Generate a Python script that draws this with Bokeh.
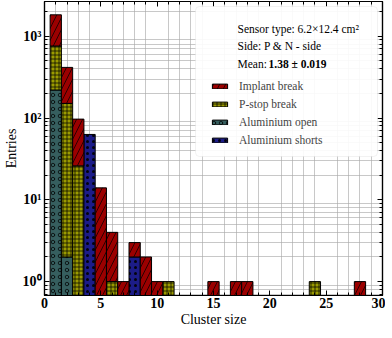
from bokeh.plotting import figure
from bokeh.models import (FixedTicker, LinearAxis, Legend, LegendItem,
                          BoxAnnotation, Label, ColumnDataSource)
from bokeh.embed import file_html
from bokeh.resources import INLINE

# ---- data ----
cluster_size = list(range(1, 29))
al_open   = [220, 2, 0, 0, 0, 0, 0, 0, 0, 0, 0, 0, 0, 0,
             0, 0, 0, 0, 0, 0, 0, 0, 0, 0, 0, 0, 0, 0]
p_stop    = [540, 149, 26, 0, 0, 1, 0, 0, 0, 0, 1, 0, 0, 0,
             0, 0, 0, 0, 0, 0, 0, 0, 0, 1, 0, 0, 0, 0]
al_shorts = [0, 0, 0, 63, 0, 0, 0, 2, 0, 0, 0, 0, 0, 0,
             0, 0, 0, 0, 0, 0, 0, 0, 0, 0, 0, 0, 0, 0]
implant   = [1068, 265, 71, 0, 14, 3, 1, 1, 2, 1, 0, 0, 0, 0,
             1, 0, 1, 1, 0, 0, 0, 0, 0, 0, 0, 0, 0, 1]

series_names = ["Aluminium open", "P-stop break", "Aluminium shorts", "Implant break"]
series_vals = [al_open, p_stop, al_shorts, implant]
series_colors = ["#365f5f", "#9a9a00", "#1c1c88", "#9b0000"]
series_hatch = ["o", "+", ".", "/"]
series_hscale = [7, 4, 6, 12]
legend_order = ["Implant break", "P-stop break", "Aluminium open", "Aluminium shorts"]

x_ticks = [0, 5, 10, 15, 20, 25, 30]
y_ticks = [1, 10, 100, 1000]
y_labels = {1: "10⁰", 10: "10¹", 100: "10²", 1000: "10³"}

info_lines = ["Sensor type: 6.2×12.4 cm²", "Side: P & N - side"]
mean_label = "Mean:"
mean_value = "1.38 ± 0.019"

FW, FH = 338, 294
p = figure(frame_width=FW, frame_height=FH, y_axis_type="log",
           x_range=(0, 30), y_range=(0.676, 2660),
           output_backend="svg", toolbar_location=None,
           min_border_left=0, min_border_right=3, min_border_top=1, min_border_bottom=0,
           background_fill_color="white", border_fill_color="white")

SERIF = "Liberation Serif"

xax = p.below[0]
yax = p.left[0]

# stacked histogram
base = [0.0] * len(cluster_size)
renderers = {}
for name, vals, col, hp, hs in zip(series_names, series_vals, series_colors, series_hatch, series_hscale):
    left, right, bottom, top = [], [], [], []
    for i, (c, v) in enumerate(zip(cluster_size, vals)):
        if v > 0:
            left.append(c - 0.5)
            right.append(c + 0.5)
            bottom.append(base[i] if base[i] > 0 else 1e-3)
            top.append(base[i] + v)
            base[i] = base[i] + v
    src = ColumnDataSource(dict(left=left, right=right, bottom=bottom, top=top))
    r = p.quad(left="left", right="right", bottom="bottom", top="top", source=src,
               fill_color=col, line_color="black", line_width=1,
               hatch_pattern=hp, hatch_color="black", hatch_alpha=0.9,
               hatch_scale=hs, hatch_weight=0.8)
    renderers[name] = r

# axes
minor_y = [m * 10 ** e for e in range(-1, 4) for m in range(2, 10)]
xax.ticker = FixedTicker(ticks=x_ticks, minor_ticks=list(range(0, 31)))
yax.ticker = FixedTicker(ticks=y_ticks, minor_ticks=minor_y)
yax.major_label_overrides = y_labels

top_ax = LinearAxis(ticker=FixedTicker(ticks=x_ticks, minor_ticks=list(range(0, 31))),
                    major_label_overrides={t: "" for t in x_ticks}, major_label_standoff=0)
right_ax = LinearAxis(ticker=FixedTicker(ticks=y_ticks, minor_ticks=minor_y),
                      major_label_overrides={t: "" for t in y_ticks}, major_label_standoff=0)
p.add_layout(top_ax, "above")
p.add_layout(right_ax, "right")

for ax in [xax, yax, top_ax, right_ax]:
    ax.major_tick_in = 5
    ax.major_tick_out = 0
    ax.minor_tick_in = 3
    ax.minor_tick_out = 0
    ax.axis_line_color = "black"
    ax.axis_line_width = 1.2
    ax.major_tick_line_color = "black"
    ax.minor_tick_line_color = "black"
    ax.major_label_text_font = SERIF
    ax.major_label_text_font_style = "bold"
    ax.major_label_text_color = "black"
    ax.major_label_text_font_size = "14px"

xax.major_label_standoff = 2
yax.major_label_standoff = 3
xax.axis_label = "Cluster size"
yax.axis_label = "Entries"
for ax in [xax, yax]:
    ax.axis_label_text_font = SERIF
    ax.axis_label_text_font_size = "14px"
    ax.axis_label_text_font_style = "normal"
    ax.axis_label_text_color = "black"
    ax.axis_label_standoff = 1

p.outline_line_color = "black"
p.outline_line_width = 1.2

p.xgrid.ticker = FixedTicker(ticks=[i for i in range(1, 30) if i % 5])
p.ygrid.ticker = FixedTicker(ticks=minor_y)
for g in [p.xgrid, p.ygrid]:
    g.grid_line_color = "#a8a8a8"
    g.grid_line_width = 0.8
    g.grid_line_alpha = 0.8

# legend frame
box = BoxAnnotation(left=FW - 187, right=FW - 5, top=FH - 5, bottom=FH - 155,
                    left_units="screen", right_units="screen",
                    top_units="screen", bottom_units="screen",
                    fill_color="white", fill_alpha=0.9,
                    line_color="#d4d4d4", line_width=1, border_radius=4)
p.add_layout(box)

ys = [FH - 27, FH - 44]
for txt, yy in zip(info_lines, ys):
    p.add_layout(Label(x=FW - 145, y=yy, x_units="screen", y_units="screen", text=txt,
                       text_font=SERIF, text_font_size="11.5px", text_baseline="middle",
                       text_color="black"))
p.add_layout(Label(x=FW - 145, y=FH - 62, x_units="screen", y_units="screen", text=mean_label,
                   text_font=SERIF, text_font_size="11.5px", text_baseline="middle",
                   text_color="black"))
p.add_layout(Label(x=FW - 114, y=FH - 62, x_units="screen", y_units="screen", text=mean_value,
                   text_font=SERIF, text_font_size="11.5px", text_baseline="middle",
                   text_font_style="bold", text_color="black"))

items = [LegendItem(label=n, renderers=[renderers[n]]) for n in legend_order]
legend = Legend(items=items, location=(FW - 172, FH - 146),
                label_text_font=SERIF, label_text_font_size="11.5px",
                glyph_width=19, glyph_height=6, label_height=14, label_standoff=10,
                spacing=4, padding=0, margin=0,
                border_line_alpha=0, background_fill_alpha=0)
p.add_layout(legend)

open("out.html", "w").write(file_html(p, INLINE))
